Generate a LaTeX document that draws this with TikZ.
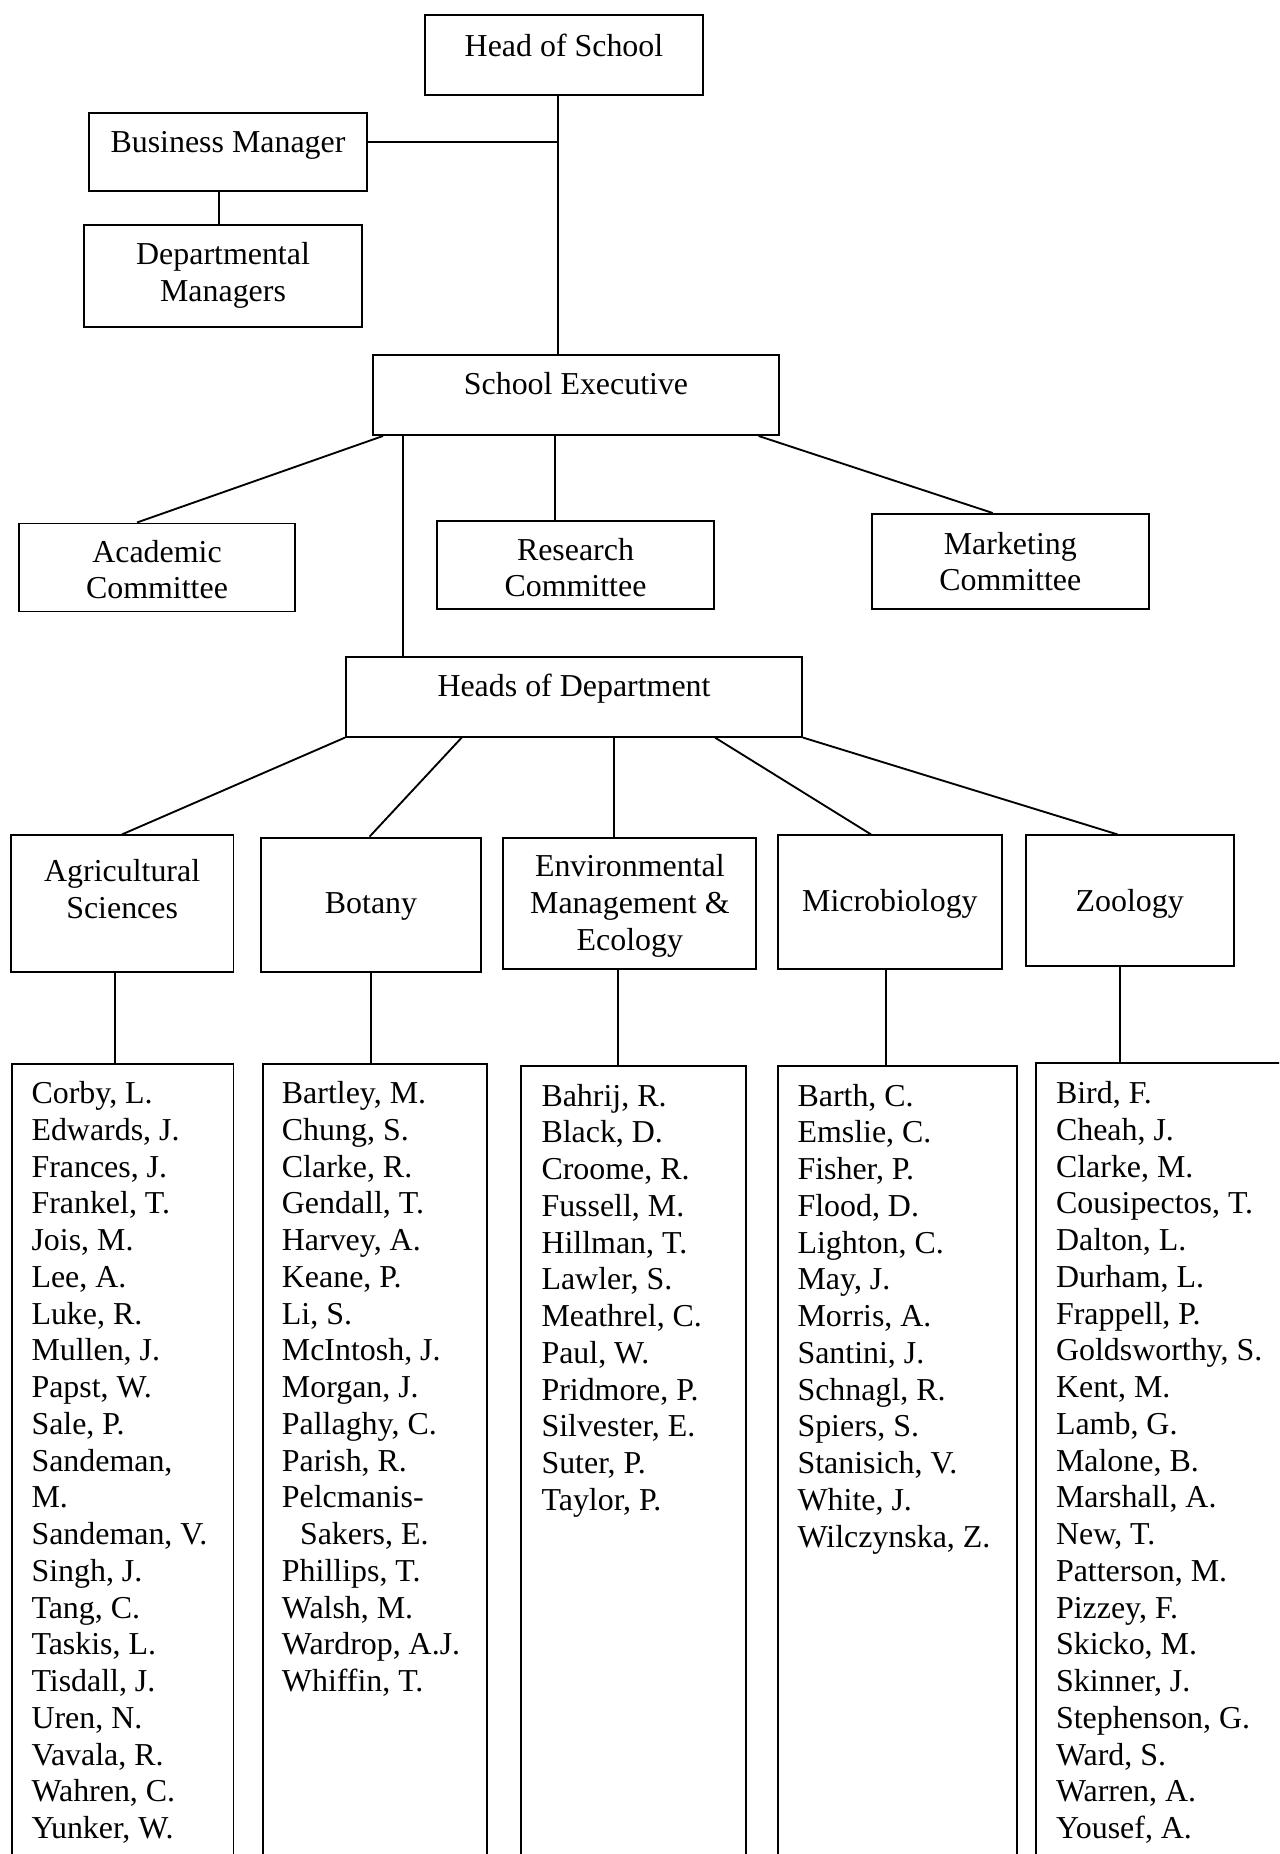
\documentclass[tikz,border=0pt]{standalone}
\usepackage{fontspec}
\setmainfont{Liberation Serif}
\begin{document}
\begin{tikzpicture}[x=0.376pt,y=-0.376pt,
  bx/.style={draw, line width=0.75pt, inner sep=0pt, anchor=north west},
  lbl/.style={anchor=base, inner sep=0pt, font=\fontsize{12}{13.8}\selectfont},
  nm/.style={anchor=base west, inner sep=0pt, font=\fontsize{12}{13.8}\selectfont},
  cn/.style={line width=0.7pt}]
\clip (0,0) rectangle (1279,1854);
\fill[white] (0,0) rectangle (1279,1854);
% boxes: name, x1, y1, x2, y2
\foreach \n/\xa/\ya/\xb/\yb in {
  hos/424/14/702/94, bm/88/112/366/190, dm/83/224/361/326,
  se/372/354/778/434, acad/18/522.5/294/610.5, res/436/520/713/608,
  mkt/871/513/1147.6/608, hod/345/655.6/801/735.6,
  agri/9.8/834.4/232.5/971, bot/260/836.7/480/971, env/502.4/836.7/755.3/967.5,
  mic/777/834.4/1000.8/967.5, zoo/1024.5/834.4/1233/964.5,
  an/10.6/1062.6/232.5/1900, bn/261.8/1062.6/486/1900, en/520/1065/744.7/1900,
  mn/776.5/1065/1016/1900, zn/1035/1062/1300/1900}
  \node[bx, minimum width={(\xb-\xa)*0.376pt}, minimum height={(\yb-\ya)*0.376pt}] (\n) at (\xa,\ya) {};
% box labels
\node[lbl] (hos-t) at (hos.north |- 0,56.5) {Head of School};
\node[lbl] (bm-t) at (bm.north |- 0,153) {Business Manager};
\node[lbl] (dm-t1) at (dm.north |- 0,265) {Departmental};
\node[lbl] (dm-t2) at (dm.north |- 0,301.5) {Managers};
\node[lbl] (se-t) at (se.north |- 0,395) {School Executive};
\node[lbl] (acad-t1) at (acad.north |- 0,562) {Academic};
\node[lbl] (acad-t2) at (acad.north |- 0,598.5) {Committee};
\node[lbl] (res-t1) at (res.north |- 0,560) {Research};
\node[lbl] (res-t2) at (res.north |- 0,596.5) {Committee};
\node[lbl] (mkt-t1) at (mkt.north |- 0,554) {Marketing};
\node[lbl] (mkt-t2) at (mkt.north |- 0,590.5) {Committee};
\node[lbl] (hod-t) at (hod.north |- 0,696) {Heads of Department};
\node[lbl] (agri-t1) at (agri.north |- 0,881) {Agricultural};
\node[lbl] (agri-t2) at (agri.north |- 0,918.5) {Sciences};
\node[lbl] (bot-t) at (bot.north |- 0,913) {Botany};
\node[lbl] (env-t1) at (env.north |- 0,876.5) {Environmental};
\node[lbl] (env-t2) at (env.north |- 0,913) {Management \&};
\node[lbl] (env-t3) at (env.north |- 0,950) {Ecology};
\node[lbl] (mic-t) at (mic.north |- 0,911) {Microbiology};
\node[lbl] (zoo-t) at (zoo.north |- 0,911) {Zoology};
% connectors
\coordinate (junc) at (558,142);
\draw[cn] (558,0 |- hos.south) -- (558,0 |- se.north);
\draw[cn] (bm.east |- junc) -- (junc);
\draw[cn] (219,0 |- bm.south) -- (219,0 |- dm.north);
\draw[cn] (383,0 |- se.south) -- (137,0 |- acad.north);
\draw[cn] (403,0 |- se.south) -- (403,0 |- hod.north);
\draw[cn] (555,0 |- se.south) -- (555,0 |- res.north);
\draw[cn] (758.6,0 |- se.south) -- (992.7,0 |- mkt.north);
\draw[cn] (hod.south west) -- (122,0 |- agri.north);
\draw[cn] (461.7,0 |- hod.south) -- (369.5,0 |- bot.north);
\draw[cn] (614,0 |- hod.south) -- (614,0 |- env.north);
\draw[cn] (715,0 |- hod.south) -- (871,0 |- mic.north);
\draw[cn] (hod.south east) -- (1117.5,0 |- zoo.north);
\draw[cn] (115,0 |- agri.south) -- (115,0 |- an.north);
\draw[cn] (371,0 |- bot.south) -- (371,0 |- bn.north);
\draw[cn] (618,0 |- env.south) -- (618,0 |- en.north);
\draw[cn] (886,0 |- mic.south) -- (886,0 |- mn.north);
\draw[cn] (1120,0 |- zoo.south) -- (1120,0 |- zn.north);
% name lists
\foreach \t [count=\i] in {{Corby, L.},{Edwards, J.},{Frances, J.},{Frankel, T.},{Jois, M.},{Lee, A.},{Luke, R.},{Mullen, J.},{Papst, W.},{Sale, P.},{Sandeman,},{M.},{Sandeman, V.},{Singh, J.},{Tang, C.},{Taskis, L.},{Tisdall, J.},{Uren, N.},{Vavala, R.},{Wahren, C.},{Yunker, W.}}
  \node[nm] (an\i) at (31,{1103.5+36.75*(\i-1)}) {\t};
\foreach \t [count=\i] in {{Bartley, M.},{Chung, S.},{Clarke, R.},{Gendall, T.},{Harvey, A.},{Keane, P.},{Li, S.},{McIntosh, J.},{Morgan, J.},{Pallaghy, C.},{Parish, R.},{Pelcmanis-},{\hspace*{6.8pt}Sakers, E.},{Phillips, T.},{Walsh, M.},{Wardrop, A.J.},{Whiffin, T.}}
  \node[nm] (bn\i) at (281.4,{1103.5+36.75*(\i-1)}) {\t};
\foreach \t [count=\i] in {{Bahrij, R.},{Black, D.},{Croome, R.},{Fussell, M.},{Hillman, T.},{Lawler, S.},{Meathrel, C.},{Paul, W.},{Pridmore, P.},{Silvester, E.},{Suter, P.},{Taylor, P.}}
  \node[nm] (en\i) at (541,{1106+36.75*(\i-1)}) {\t};
\foreach \t [count=\i] in {{Barth, C.},{Emslie, C.},{Fisher, P.},{Flood, D.},{Lighton, C.},{May, J.},{Morris, A.},{Santini, J.},{Schnagl, R.},{Spiers, S.},{Stanisich, V.},{White, J.},{Wilczynska, Z.}}
  \node[nm] (mn\i) at (797,{1106+36.75*(\i-1)}) {\t};
\foreach \t [count=\i] in {{Bird, F.},{Cheah, J.},{Clarke, M.},{Cousipectos, T.},{Dalton, L.},{Durham, L.},{Frappell, P.},{Goldsworthy, S.},{Kent, M.},{Lamb, G.},{Malone, B.},{Marshall, A.},{New, T.},{Patterson, M.},{Pizzey, F.},{Skicko, M.},{Skinner, J.},{Stephenson, G.},{Ward, S.},{Warren, A.},{Yousef, A.}}
  \node[nm] (zn\i) at (1055.5,{1103.5+36.75*(\i-1)}) {\t};
\end{tikzpicture}
\end{document}
